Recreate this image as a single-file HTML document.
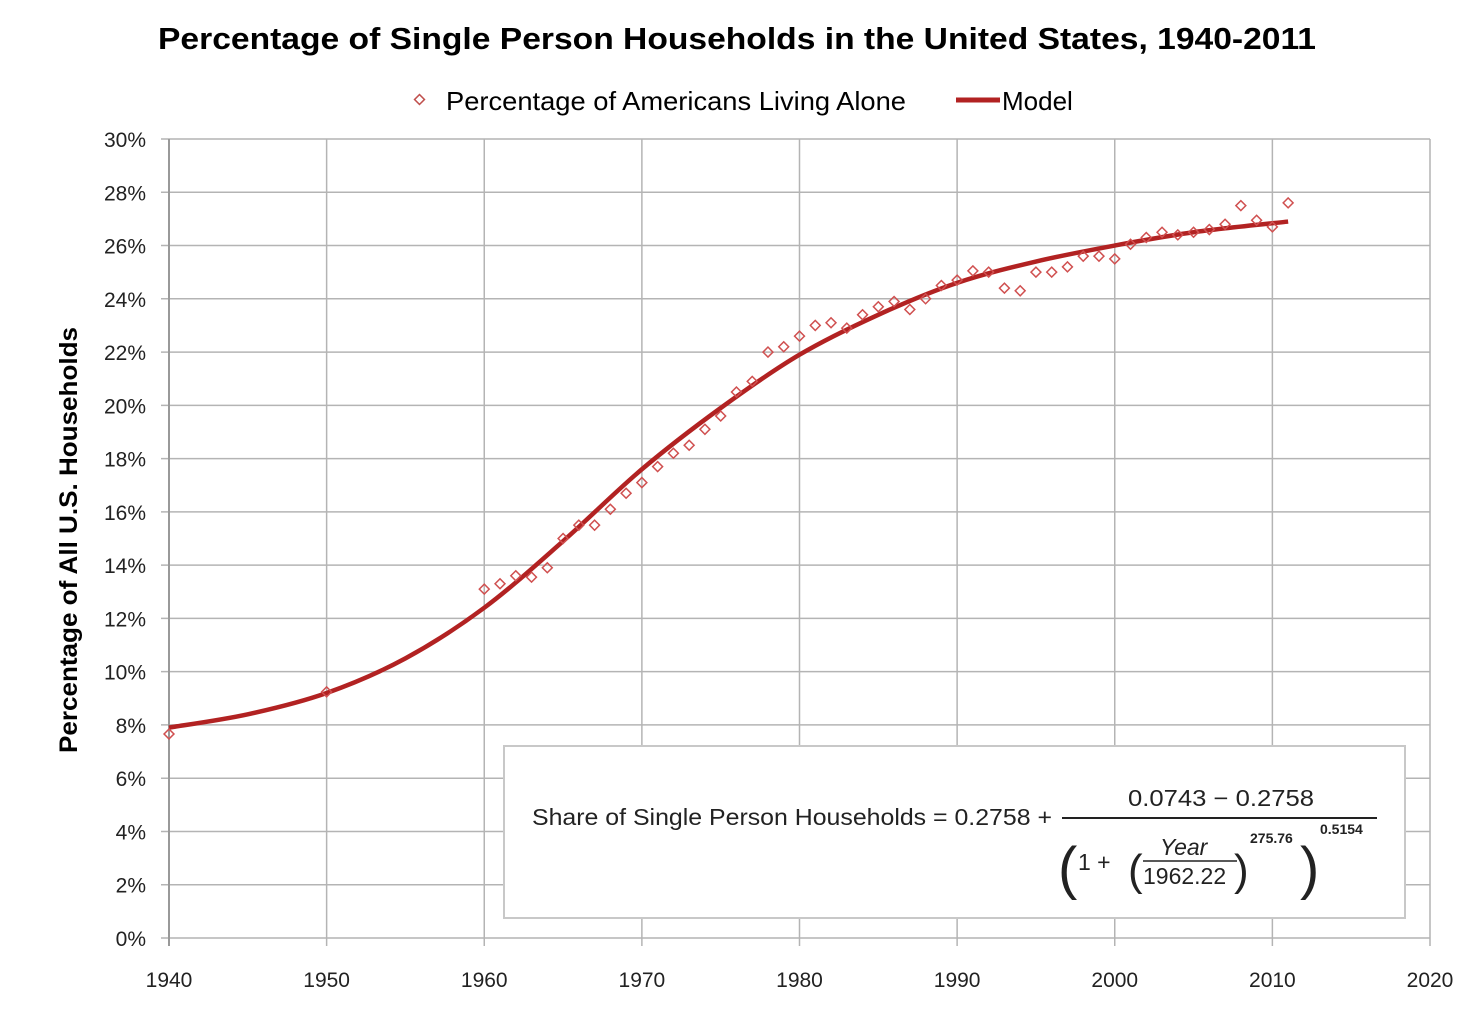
<!DOCTYPE html>
<html><head><meta charset="utf-8"><style>
body{margin:0;background:#fff;width:1480px;height:1006px;overflow:hidden}
svg text{font-family:"Liberation Sans",sans-serif}
</style></head><body>
<svg id="chart" width="1480" height="1006">
<text x="737" y="49" text-anchor="middle" font-size="31" font-weight="bold" fill="#000" textLength="1158" lengthAdjust="spacingAndGlyphs">Percentage of Single Person Households in the United States, 1940-2011</text>
<g>
<rect x="416" y="96" width="7" height="7" transform="rotate(45 419.5 99.5)" fill="#fff" stroke="#c0504d" stroke-width="1.5"/>
<text x="446" y="110" font-size="26" fill="#000" textLength="460" lengthAdjust="spacingAndGlyphs">Percentage of Americans Living Alone</text>
<line x1="956" y1="100" x2="1000" y2="100" stroke="#b22222" stroke-width="5"/>
<text x="1002" y="110" font-size="26" fill="#000">Model</text>
</g>
<text transform="translate(77 540) rotate(-90)" text-anchor="middle" font-size="25" font-weight="bold" fill="#000" textLength="426" lengthAdjust="spacingAndGlyphs">Percentage of All U.S. Households</text>
<g id="grid"></g><g id="ticks"></g><g id="marks"></g>
<g>
<rect x="504" y="746" width="901" height="172" fill="#fff" stroke="#c8c8c8" stroke-width="2"/>
<g font-family="Liberation Serif,serif" fill="#222" font-size="23">
<text x="532" y="825" textLength="520" lengthAdjust="spacingAndGlyphs">Share of Single Person Households = 0.2758 +</text>
<text x="1128" y="806" textLength="186" lengthAdjust="spacingAndGlyphs">0.0743 − 0.2758</text>
<line x1="1062" y1="818" x2="1377" y2="818" stroke="#222" stroke-width="2"/>
<text x="1058" y="888" font-size="58" font-weight="normal" transform="scale(1 1)">(</text>
<text x="1078" y="870">1 +</text>
<text x="1128" y="885" font-size="44">(</text>
<text x="1160" y="855" font-style="italic">Year</text>
<line x1="1143" y1="861" x2="1237" y2="861" stroke="#222" stroke-width="1.5"/>
<text x="1143" y="884">1962.22</text>
<text x="1234" y="885" font-size="44">)</text>
<text x="1250" y="843" font-size="14" font-weight="bold">275.76</text>
<text x="1300" y="888" font-size="58">)</text>
<text x="1320" y="834" font-size="14" font-weight="bold">0.5154</text>
</g></g>
</svg>
<script>
const years=[1940,1950,1960,1961,1962,1963,1964,1965,1966,1967,1968,1969,1970,1971,1972,1973,1974,1975,1976,1977,1978,1979,1980,1981,1982,1983,1984,1985,1986,1987,1988,1989,1990,1991,1992,1993,1994,1995,1996,1997,1998,1999,2000,2001,2002,2003,2004,2005,2006,2007,2008,2009,2010,2011];
const pctAlone=[7.66,9.24,13.1,13.3,13.6,13.55,13.9,15.0,15.5,15.5,16.1,16.7,17.1,17.7,18.2,18.5,19.1,19.6,20.5,20.9,22.0,22.2,22.6,23.0,23.1,22.9,23.4,23.7,23.9,23.6,24.0,24.5,24.7,25.05,25.0,24.4,24.3,25.0,25.0,25.2,25.6,25.6,25.5,26.05,26.3,26.5,26.4,26.5,26.6,26.8,27.5,26.95,26.7,27.6];
const modelYears=[1940,1945,1950,1955,1960,1965,1970,1975,1980,1985,1990,1995,2000,2005,2011];
const modelPct=[7.9,8.4,9.2,10.5,12.4,14.9,17.6,19.9,21.9,23.4,24.6,25.4,26.0,26.5,26.9];
const xTicks=[1940,1950,1960,1970,1980,1990,2000,2010,2020];
const yTicks=[0,2,4,6,8,10,12,14,16,18,20,22,24,26,28,30];
const NS='http://www.w3.org/2000/svg';
const X=v=>169+(v-1940)*(1430-169)/80;
const Y=v=>938-v*(938-139)/30;
function mk(t,a,p){const e=document.createElementNS(NS,t);for(const k in a)e.setAttribute(k,a[k]);p.appendChild(e);return e;}
const grid=document.getElementById('grid'),ticks=document.getElementById('ticks'),marks=document.getElementById('marks');
yTicks.forEach(v=>{
 const l=mk('line',{x1:161,x2:1430,y1:Y(v),y2:Y(v),stroke:'#b4b4b4','stroke-width':1.5},grid);
 
 
 const t=mk('text',{x:146,y:Y(v)+8,'text-anchor':'end','font-size':21,fill:'#222'},ticks);
 t.textContent=v+'%';
 
 
});
xTicks.forEach(v=>{
 const l=mk('line',{x1:X(v),x2:X(v),y1:139,y2:946,stroke:'#b4b4b4','stroke-width':1.5},grid);
 
 
 const t=mk('text',{x:X(v),y:987,'text-anchor':'middle','font-size':21,fill:'#222'},ticks);
 t.textContent=v;
 
 
});
const ax=mk('line',{x1:169,x2:169,y1:139,y2:946,stroke:'#999','stroke-width':2},grid);


// model curve (Catmull-Rom)
const P=modelYears.map((y,i)=>[X(y),Y(modelPct[i])]);
let d='M'+P[0][0]+','+P[0][1];
for(let i=0;i<P.length-1;i++){const p0=P[Math.max(0,i-1)],p1=P[i],p2=P[i+1],p3=P[Math.min(P.length-1,i+2)];
 d+=` C${p1[0]+(p2[0]-p0[0])/6},${p1[1]+(p2[1]-p0[1])/6} ${p2[0]-(p3[0]-p1[0])/6},${p2[1]-(p3[1]-p1[1])/6} ${p2[0]},${p2[1]}`;}
const line=mk('path',{d:d,fill:'none',stroke:'#b22222','stroke-width':4.5,'stroke-linejoin':'round'},marks);


years.forEach((y,i)=>{
 const cx=X(y),cy=Y(pctAlone[i]);
 const r=mk('rect',{x:cx-3.5,y:cy-3.5,width:7,height:7,transform:`rotate(45 ${cx} ${cy})`,fill:'none',stroke:'#d05050','stroke-width':1.5},marks);
 
 
});
</script>
</body></html>
